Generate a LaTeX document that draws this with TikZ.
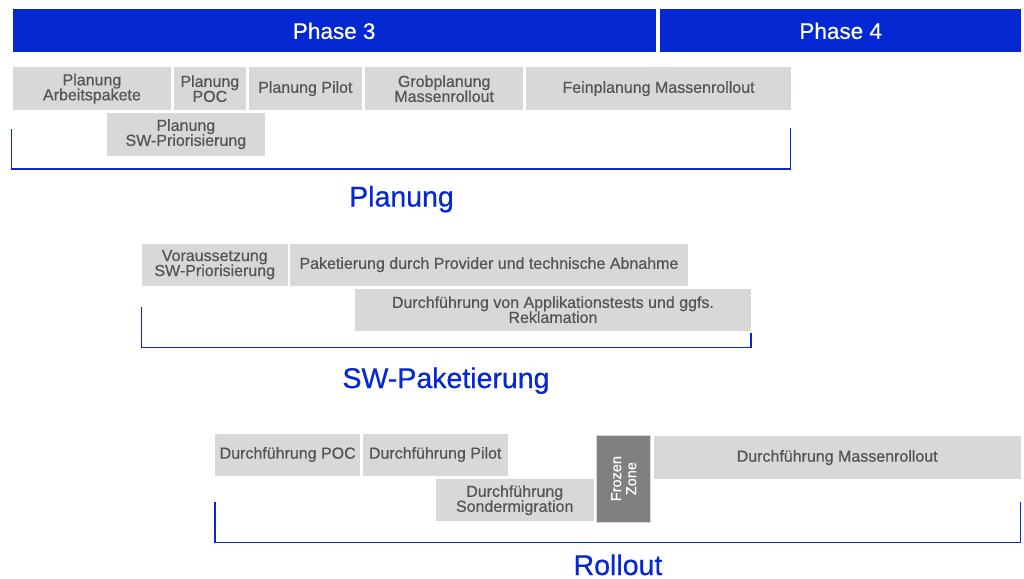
\documentclass[tikz,border=0pt]{standalone}
\usepackage{fontspec}
\setmainfont[FakeBold=0.5]{Liberation Sans}
\newfontfamily\medfont[FakeBold=0.6]{Liberation Sans}
\definecolor{phaseblue}{RGB}{5,40,210}
\definecolor{boxgray}{RGB}{217,216,214}
\definecolor{txtgray}{RGB}{85,85,85}
\definecolor{frozengray}{RGB}{128,128,128}
\newcommand\tbox[7][task]{\node[#1, minimum width={#5-#3}, minimum height={#6-#4}] (#2) at (#3,#4) {#7};}
\begin{document}
\begin{tikzpicture}[x=1pt,y=-1pt,
  phase/.style={fill=phaseblue, text=white, font=\medfont\fontsize{22.5}{24}\selectfont, inner sep=0pt, anchor=north west},
  task/.style={fill=boxgray, text=txtgray, font=\medfont\fontsize{16}{15}\selectfont, align=center, inner sep=0pt, anchor=north west},
  frozen/.style={fill=frozengray, draw=boxgray, line width=0.8pt, text=white, font=\medfont\fontsize{14.5}{15}\selectfont, align=center, inner sep=0pt, rotate=90},
  bracket/.style={draw=phaseblue, line width=1.1pt},
  section/.style={text=phaseblue, font=\medfont\fontsize{28.5}{30}\selectfont, anchor=base, inner sep=0pt}]
\useasboundingbox[fill=white] (0,0) rectangle (1024,578);

% phases
\tbox[phase]{ph3}{12.5}{9.3}{655.5}{52}{Phase 3}
\tbox[phase]{ph4}{660}{9.3}{1021}{52}{Phase 4}

% Planung
\tbox{pa}{12.5}{67}{171}{110}{Planung\\Arbeitspakete}
\tbox{poc}{173.3}{67}{246}{110}{Planung\\POC}
\tbox{pilot}{248.3}{67}{362}{110}{Planung Pilot}
\tbox{grob}{365}{67}{523}{110}{Grobplanung\\Massenrollout}
\tbox{fein}{525.7}{67}{791}{110}{Feinplanung Massenrollout}
\tbox{swp}{106.3}{112.7}{265}{155.3}{Planung\\SW-Priorisierung}
\coordinate (pl1) at (11.7,129);
\coordinate (pl2) at (11.7,169);
\coordinate (pl3) at (790.5,169);
\coordinate (pl4) at (790.5,128);
\draw[bracket] (pl1) -- (pl2) -- (pl3) -- (pl4);
\node[section] (lplan) at (401.5,206.5) {Planung};

% SW-Paketierung
\tbox{vor}{141.6}{243.3}{287.5}{285.7}{Voraussetzung\\SW-Priorisierung}
\tbox{pak}{290}{243.3}{687.5}{285.7}{Paketierung durch Provider und technische Abnahme}
\tbox{app}{354.5}{288.3}{751}{330.7}{Durchführung von Applikationstests und ggfs.\\Reklamation}
\coordinate (sw1) at (141.5,307);
\coordinate (sw2) at (141.5,347.3);
\coordinate (sw3) at (751,347.3);
\coordinate (sw4) at (751,333);
\draw[bracket] (sw1) -- (sw2) -- (sw3) -- (sw4);
\node[section] (lsw) at (446,388) {SW-Paketierung};

% Rollout
\tbox{dpoc}{215}{433.3}{360}{475.3}{Durchführung POC}
\tbox{dpil}{362.7}{433.3}{507.3}{475.3}{Durchführung Pilot}
\tbox{dson}{435.3}{479}{593.7}{521}{Durchführung\\Sondermigration}
\node[frozen, minimum width=87.3pt, minimum height=54pt] (fz) at (623.7,478.6) {Frozen\\Zone};
\tbox{dmas}{653.3}{436}{1020.7}{478.7}{Durchführung Massenrollout}
\coordinate (ro1) at (215,501.7);
\coordinate (ro2) at (215,542.3);
\coordinate (ro3) at (1020.3,542.3);
\coordinate (ro4) at (1020.3,501.7);
\draw[bracket] (ro1) -- (ro2) -- (ro3) -- (ro4);
\node[section, text depth=0pt] (lro) at (618,575) {Rollout};
\end{tikzpicture}
\end{document}
